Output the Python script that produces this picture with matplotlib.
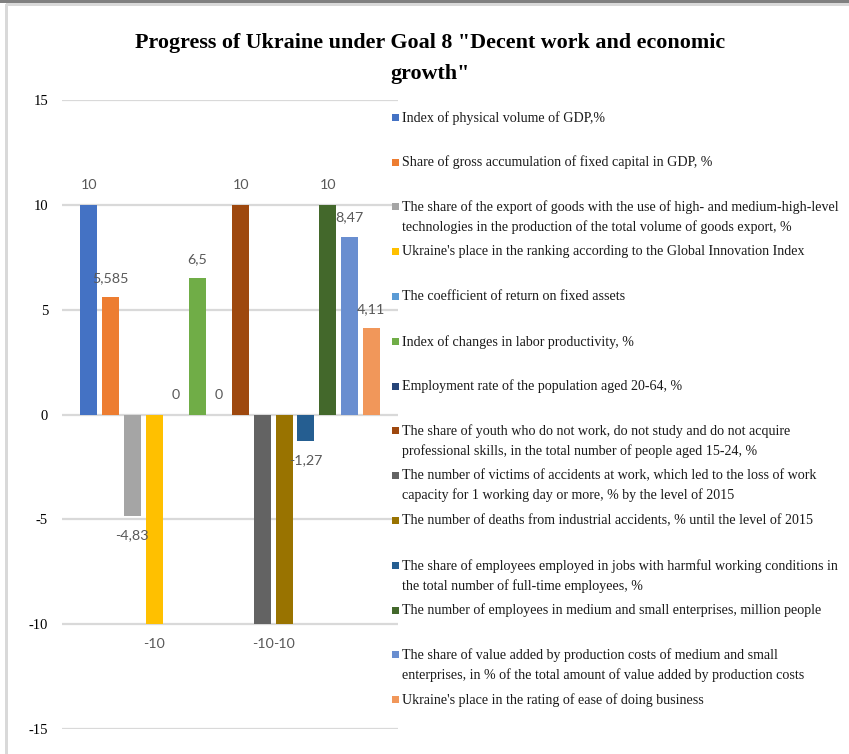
import matplotlib
matplotlib.use("Agg")
import matplotlib.pyplot as plt
import numpy as np
from matplotlib.patches import Rectangle

# Goal 8 indicators and their progress scores
indicators = [
    "Index of physical volume of GDP,%",
    "Share of gross accumulation of fixed capital in GDP, %",
    "The share of the export of goods with the use of high- and medium-high-level\n"
    "technologies in the production of the total volume of goods export, %",
    "Ukraine's place in the ranking according to the Global Innovation Index",
    "The coefficient of return on fixed assets",
    "Index of changes in labor productivity, %",
    "Employment rate of the population aged 20-64, %",
    "The share of youth who do not work, do not study and do not acquire\n"
    "professional skills, in the total number of people aged 15-24, %",
    "The number of victims of accidents at work, which led to the loss of work\n"
    "capacity for 1 working day or more, % by the level of 2015",
    "The number of deaths from industrial accidents, % until the level of 2015",
    "The share of employees employed in jobs with harmful working conditions in\n"
    "the total number of full-time employees, %",
    "The number of employees in medium and small enterprises, million people",
    "The share of value added by production costs of medium and small\n"
    "enterprises, in % of the total amount of value added by production costs",
    "Ukraine's place in the rating of ease of doing business",
]
scores = [10, 5.585, -4.83, -10, 0, 6.5, 0, 10, -10, -10, -1.27, 10, 8.47, 4.11]
y_ticks = [-15, -10, -5, 0, 5, 10, 15]

colors = ["#4472C4", "#ED7D31", "#A5A5A5", "#FFC000", "#5B9BD5", "#70AD47",
          "#264478", "#9E480E", "#636363", "#997300", "#255E91", "#43682B",
          "#698ED0", "#F1975A"]

W, H = 849, 754
fig = plt.figure(figsize=(W / 100, H / 100), dpi=100)
fig.patch.set_facecolor("white")

# frame lines along the top and left edge
fig.add_artist(Rectangle((0, 1 - 3 / H), 1, 3 / H, transform=fig.transFigure,
                         color="#808080", lw=0))
fig.add_artist(Rectangle((6 / W, 1 - 6 / H), 1, 3 / H, transform=fig.transFigure,
                         color="#D9D9D9", lw=0))
fig.add_artist(Rectangle((5 / W, 0), 3 / W, 1 - 4 / H, transform=fig.transFigure,
                         color="#D9D9D9", lw=0))

ax = fig.add_axes([62 / W, 1 - 729 / H, 336 / W, 629 / H])

n = len(scores)
pitch = 21.7 / 336
width = 17 / 336
xs = (np.arange(n) - (n - 1) / 2) * pitch
ax.bar(xs, scores, width=width, color=colors, zorder=3)

ax.set_xlim(-0.5, 0.5)
ax.set_ylim(-15, 15)
ax.set_yticks(y_ticks)
ax.set_yticklabels([str(t) for t in y_ticks], family="Liberation Serif",
                   fontsize=10.5, color="black")
ax.set_xticks([])
ax.tick_params(axis="y", length=0, pad=10)
ax.yaxis.grid(True, color="#D9D9D9", lw=1.6, zorder=0)
for s in ax.spines.values():
    s.set_visible(False)

# value labels just beyond the end of each bar
for x, v in zip(xs, scores):
    txt = f"{v:g}".replace(".", ",")
    off = -14 if v < 0 else 14
    ax.annotate(txt, (x, v), xytext=(0, off), textcoords="offset points",
                ha="center", va="center", fontsize=10.3, family="Lato",
                color="#595959", zorder=4)

# legend down the right-hand side
slot0, slot_step = 117.3, 44.8
for i, (lab, c) in enumerate(zip(indicators, colors)):
    yc = slot0 + i * slot_step
    fig.add_artist(Rectangle((392 / W, 1 - (yc + 3.5) / H), 7 / W, 7 / H,
                             transform=fig.transFigure, color=c, lw=0))
    fig.text(402 / W, 1 - (yc - 6.5) / H, lab, ha="left", va="top",
             family="Liberation Serif", fontsize=10.1, color="#1a1a1a",
             linespacing=1.6)

fig.text(430 / W, 1 - 33 / H,
         'Progress of Ukraine under Goal 8 "Decent work and economic\ngrowth"',
         ha="center", va="top", family="Liberation Serif",
         fontweight="bold", fontsize=15.8, linespacing=1.7)

fig.savefig("out.png", dpi=100)
